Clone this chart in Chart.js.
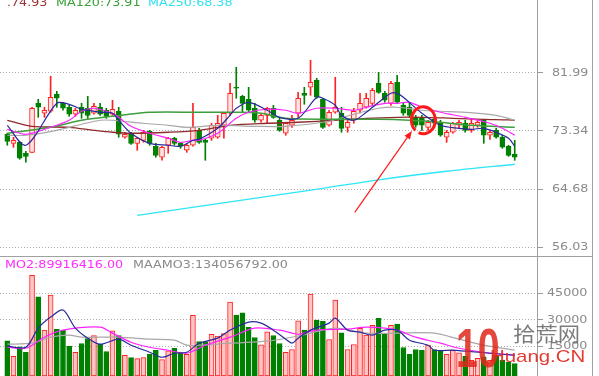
<!DOCTYPE html>
<html><head><meta charset="utf-8">
<script src="https://cdn.jsdelivr.net/npm/chart.js@4.4.0/dist/chart.umd.min.js"></script>
<style>
body{margin:0;background:#fff;}
#wrap{position:relative;width:599px;height:376px;overflow:hidden;background:#fff;font-family:'DejaVu Sans',sans-serif;}
canvas{position:absolute;left:0;}
.t{position:absolute;white-space:nowrap;font-size:10px;line-height:12px;transform:scaleX(1.27);transform-origin:0 0;font-family:'DejaVu Sans',sans-serif;}
.ln{position:absolute;background:#a0a0a0;}
</style></head><body>
<div id="wrap">
<canvas id="pc" width="599" height="256" style="top:0"></canvas>
<canvas id="vc" width="599" height="120" style="top:256px"></canvas>
<div class="ln" style="left:0;top:256px;width:593px;height:1px"></div>
<div class="ln" style="left:592px;top:0;width:1px;height:376px"></div>
<span class="t" style="left:7px;top:-3px;color:#9a3434">.74.93</span>
<span class="t" style="left:56px;top:-3px;color:#36a236">MA120:73.91</span>
<span class="t" style="left:148px;top:-3px;color:#2ee0f0">MA250:68.38</span>
<span class="t" style="left:5px;top:259px;color:#ff2cff">MO2:89916416.00</span>
<span class="t" style="left:133px;top:259px;color:#8a8a8a">MAAMO3:134056792.00</span>
<div style="position:absolute;left:456px;top:320px;font:bold 56px 'Liberation Sans',sans-serif;line-height:56px;color:#e0281c;opacity:0.85;transform:scaleX(0.7);transform-origin:0 0">10</div>
<div style="position:absolute;left:513px;top:324px;font:20px 'Noto Sans CJK SC',sans-serif;line-height:20px;color:#666;opacity:0.85;transform:scaleX(1.12);transform-origin:0 0">拾荒网</div>
<div style="position:absolute;left:490px;top:348px;font:17px 'Liberation Sans',sans-serif;line-height:17px;color:#e0281c;opacity:0.9;transform:scaleX(1.2);transform-origin:0 0">Huang.CN</div>
</div>
<script>
// ---- candles (price) ----
const openP  = [72.85,71.50,71.65,70.01,70.16,77.47,75.98,76.28,78.81,77.47,76.88,75.83,76.88,76.73,75.98,76.88,76.43,75.83,76.28,72.40,72.85,71.50,71.95,73.29,71.06,69.42,71.21,72.25,71.50,70.46,71.21,73.44,71.95,72.25,72.40,74.19,75.98,79.86,78.52,78.07,76.73,74.94,75.68,76.73,74.94,73.00,74.19,75.98,78.96,79.86,80.90,78.07,74.19,76.13,75.98,73.89,74.94,76.43,76.88,77.47,80.46,78.96,77.47,80.61,77.17,76.88,75.38,75.23,73.89,75.08,74.64,72.40,73.15,74.19,74.49,73.44,74.19,74.94,72.70,73.44,72.40,71.06,69.86];
const highP  = [73.00,72.40,71.80,70.31,76.88,78.07,76.88,81.50,79.26,77.62,77.17,76.73,77.47,78.52,77.47,77.47,76.73,77.92,76.88,73.15,73.15,72.40,73.44,73.44,71.50,71.06,72.40,72.40,71.65,71.50,77.47,73.74,72.10,74.49,75.68,76.13,80.46,82.84,78.66,79.86,77.47,75.98,76.88,77.17,75.23,74.64,75.68,79.11,79.86,83.89,81.20,78.22,76.43,81.35,76.88,74.94,76.73,78.96,78.96,79.71,82.10,79.26,80.75,81.65,77.62,77.47,75.68,75.68,74.94,75.23,74.94,73.44,74.64,74.94,74.94,75.23,74.94,75.08,73.44,73.74,72.70,71.21,71.95];
const lowP   = [71.21,70.91,69.12,68.67,70.10,75.38,75.38,76.13,76.88,76.43,75.53,75.53,75.23,75.23,75.83,75.68,75.23,75.68,72.40,72.25,71.35,70.46,71.65,71.21,69.42,68.97,70.01,71.21,70.76,70.16,71.06,71.50,68.97,71.95,72.25,72.25,75.68,78.22,76.13,76.13,74.64,74.64,74.49,75.23,73.29,72.70,73.89,75.38,77.32,78.66,78.22,73.74,74.04,75.98,73.15,73.15,74.49,75.98,76.73,77.17,78.96,77.62,77.17,77.47,75.68,75.38,73.89,73.44,73.44,74.19,72.55,71.65,73.00,73.74,73.15,73.15,73.89,71.50,72.10,72.25,70.76,69.56,68.97];
const closeP = [71.80,71.95,69.27,69.56,76.73,76.88,76.43,78.37,78.22,76.73,75.83,76.43,75.98,75.68,77.02,75.83,75.53,76.58,72.85,72.85,71.50,72.25,73.15,71.50,69.71,70.91,72.25,71.50,71.06,71.21,73.89,71.65,71.65,74.19,74.49,75.98,78.96,79.71,77.47,76.43,74.94,75.68,76.73,75.38,73.44,74.49,74.94,78.22,78.66,80.61,78.37,73.89,76.13,76.88,73.74,74.64,76.28,77.47,78.22,79.41,79.11,77.92,80.46,77.62,75.98,75.68,74.19,74.19,74.64,74.49,72.70,73.15,74.49,74.64,73.44,74.49,74.64,72.70,73.15,72.40,70.91,69.71,69.42];
// ---- volume ----
const volume = [18270,9640,14880,11890,55150,43080,24300,44040,24700,24300,15280,11890,16800,19620,21310,16400,12290,23910,21310,10200,8900,8340,8900,10770,13020,7780,12630,14150,11500,10770,32590,17930,17930,21880,20920,22440,40090,32760,34060,25820,20180,16010,23340,21310,16800,11890,13420,29550,24300,44600,29940,29210,19060,41220,22780,13420,16240,25260,21480,26950,30900,21880,26950,27690,14540,10770,13420,13020,15840,13420,13020,10770,13020,11500,9640,7380,8510,9240,7380,9640,7380,6420,5520];
// ---- price moving averages (read at candle indices) ----
const ma5Idx = [0,3,8,10,12,13,15,17,18,20,23,26,28,30,31,34,36,37,39,42,44,47,50,51,53,54,56,58,60,62,63,64,67,70,73,75,77,79,81,82];
const ma5Val = [74.19,71.21,77.47,77.32,76.58,76.43,76.13,75.98,74.94,73.00,71.50,71.21,71.06,71.95,72.10,73.74,75.68,76.73,77.62,76.43,75.38,75.23,78.37,78.22,77.17,75.68,74.94,76.13,77.62,78.96,78.96,78.37,75.98,74.19,73.74,73.59,73.74,73.15,72.25,71.06];
const ma10Idx = [0,3,7,10,12,14,17,18,20,23,26,28,30,31,34,37,39,42,45,47,50,53,56,58,61,63,65,67,70,74,78,80,82];
const ma10Val = [73.59,72.85,73.89,74.94,76.28,76.73,75.98,75.38,74.04,73.00,72.25,71.65,71.95,71.95,73.00,75.23,76.13,76.58,76.43,75.98,76.73,76.73,76.43,76.88,77.47,77.47,77.62,76.88,76.13,75.38,74.49,73.74,72.70];
const ma120Idx = [0,7,12,17,23,31,36,41,45,52,60,65,70,75,82];
const ma120Val = [73.00,73.89,74.94,75.53,76.13,76.13,76.13,75.98,75.23,75.08,75.08,74.94,74.64,74.19,73.91];
const ma60Idx = [0,4,10,14,17,20,26,31,36,42,47,53,58,63,67,72,77,81,82];
const ma60Val = [74.94,74.04,73.89,73.44,73.15,73.00,73.15,73.44,74.19,74.49,74.64,74.94,75.23,75.38,75.38,75.23,75.08,75.00,74.93];
const maGrayIdx = [0,3,8,12,15,17,22,26,29,34,40,45,52,56,60,63,67,70,74,79,82];
const maGrayVal = [72.70,72.70,73.44,74.34,74.94,74.94,74.49,74.19,73.89,74.19,74.04,74.04,74.79,75.83,76.73,76.88,76.43,76.28,76.13,75.68,74.94];
const ma250Idx = [21,31,41,51,60,71,82];
const ma250Val = [60.76,62.10,63.45,64.79,66.06,67.33,68.38];
// ---- volume moving averages ----
const vma1Idx = [0,3,5,7,9,11,13,15,18,20,23,25,27,29,31,34,36,39,41,43,45,46,47,49,52,53,55,57,59,61,63,65,68,69,72,74,82];
const vma1Val = [15280,14710,25430,31630,35580,25430,19790,16400,19230,15840,11890,9070,11330,11890,16970,19790,24300,28810,28250,24300,19230,16970,19790,24300,28250,31070,24300,23170,21480,24300,24300,18660,15840,13020,13020,12460,10200];
const vma2Idx = [0,3,6,9,15,17,20,23,26,29,32,36,40,44,46,47,50,55,58,61,63,66,70,73,77,82];
const vma2Val = [14710,14150,20350,24300,25990,22610,17530,14710,13020,11330,15840,20350,25430,24300,22610,22000,24300,24870,25990,25430,24300,20350,16970,14150,11890,10200];
const vma3Idx = [0,4,7,10,12,18,23,27,29,31,36,42,47,53,58,63,69,73,77,82];
const vma3Val = [16400,16970,20350,21480,20350,20350,19230,18660,15840,15840,16970,18100,21000,25430,22610,22610,22610,19230,15840,13020];
// ---- tick labels ----
const priceTicks = [56.03, 64.68, 73.34, 81.99];
const volTicks = [15000, 30000, 45000];
// ---- annotation (data coords) ----
const circleAt = [67.24, 74.94];
const arrowFrom = [56.15, 61.21];
const arrowTo = [65.2, 73.1];

const RED='#ff2020', REDFILL='#ffe2e2', GREEN='#008000';
const up = closeP.map((c,i)=> c >= openP[i]);
const colEdge = up.map(u=> u?RED:GREEN);
const colBody = up.map(u=> u?REDFILL:GREEN);
const xMin=-1.18, xMax=85.6;
const pts = (idx,val)=> idx.map((x,k)=>({x:x,y:val[k]}));
const lineDs = (idx,val,color,w)=>({type:'line',data:pts(idx,val),borderColor:color,borderWidth:w||1.2,pointRadius:0,tension:0.3,fill:false,order:0});

Chart.defaults.font.family = "'DejaVu Sans', sans-serif";
Chart.defaults.animation = false;

const annot = {id:'annot', afterDatasetsDraw(chart){
  const {ctx, scales:{x,y}} = chart;
  ctx.save();
  ctx.strokeStyle='#ff1a1a'; ctx.fillStyle='#ff1a1a';
  const cx=x.getPixelForValue(circleAt[0]), cy=y.getPixelForValue(circleAt[1]);
  ctx.lineWidth=3;
  ctx.beginPath(); ctx.ellipse(cx,cy,12,13.5,0,2.3,2.3+Math.PI*1.9); ctx.stroke();
  const x1=x.getPixelForValue(arrowFrom[0]), y1=y.getPixelForValue(arrowFrom[1]);
  const x2=x.getPixelForValue(arrowTo[0]), y2=y.getPixelForValue(arrowTo[1]);
  ctx.lineWidth=1.2;
  ctx.beginPath(); ctx.moveTo(x1,y1); ctx.lineTo(x2,y2); ctx.stroke();
  const a=Math.atan2(y2-y1,x2-x1);
  ctx.beginPath(); ctx.moveTo(x2+2*Math.cos(a),y2+2*Math.sin(a));
  ctx.lineTo(x2-7*Math.cos(a-0.5),y2-7*Math.sin(a-0.5));
  ctx.lineTo(x2-7*Math.cos(a+0.5),y2-7*Math.sin(a+0.5));
  ctx.closePath(); ctx.fill();
  ctx.restore();
}};

function yAxis(min,max,ticks,pad,fmt){
  return {position:'right', min:min, max:max,
    afterBuildTicks: s=>{ s.ticks = ticks.map(v=>({value:v})); },
    afterFit: s=>{ s.width = 62; s.paddingTop=0; s.paddingBottom=0; },
    ticks:{padding:pad, color:'#8a8a8a', font:{size:10}, callback: fmt},
    grid:{color:'#b0b0b0', lineWidth:1, tickLength:6, tickColor:'#9a9a9a', drawTicks:true},
    border:{display:true, color:'#a0a0a0', width:1, dash:[1,2]}
  };
}
const xAxis = {type:'linear', min:xMin, max:xMax, display:false, offset:false};

const pChart = new Chart(document.getElementById('pc'), {
  type:'bar',
  data:{datasets:[
    lineDs(ma5Idx,ma5Val,'#2a2a9c'),
    lineDs(ma10Idx,ma10Val,'#ff22ff'),
    lineDs(ma120Idx,ma120Val,'#3c9e3c',1.5),
    lineDs(maGrayIdx,maGrayVal,'#a8a8a8'),
    lineDs(ma60Idx,ma60Val,'#8e2a2a',1.3),
    lineDs(ma250Idx,ma250Val,'#2ee6f6',1.3),
    {type:'bar', data: openP.map((o,i)=>({x:i,y:[o,closeP[i]]})), backgroundColor:colBody, borderColor:colEdge, borderWidth:1, borderSkipped:false, barThickness:5, grouped:false, order:1},
    {type:'bar', data: highP.map((h,i)=>({x:i,y:[lowP[i],h]})), backgroundColor:colEdge, borderWidth:0, barThickness:1, grouped:false, order:2}
  ]},
  options:{responsive:false, maintainAspectRatio:false, animation:false,
    layout:{padding:0},
    plugins:{legend:{display:false}, tooltip:{enabled:false}},
    scales:{x:xAxis, y:yAxis(54.69,92.88,priceTicks,9,v=>v.toFixed(2))}
  },
  plugins:[annot]
});

const vChart = new Chart(document.getElementById('vc'), {
  type:'bar',
  data:{datasets:[
    lineDs(vma1Idx,vma1Val,'#2a2a9c'),
    lineDs(vma2Idx,vma2Val,'#ff22ff'),
    lineDs(vma3Idx,vma3Val,'#a8a8a8'),
    {type:'bar', data: volume.map((v,i)=>({x:i,y:v})), base:-1461, backgroundColor:up.map(u=>u?'#ffc4c4':GREEN), borderColor:colEdge, borderWidth:1, borderSkipped:false, barThickness:5, grouped:false, order:1}
  ]},
  options:{responsive:false, maintainAspectRatio:false, animation:false,
    layout:{padding:0},
    plugins:{legend:{display:false}, tooltip:{enabled:false}},
    scales:{x:xAxis, y:yAxis(-1461,65955,volTicks,4,v=>String(v))}
  }
});

function stretchLabels(chart,id,sx){
  const sc = chart.scales[id];
  const orig = sc.drawLabels;
  sc.drawLabels = function(area){
    const c=this.ctx;
    const x0=this.left + this.options.grid.tickLength + this.options.ticks.padding;
    c.save(); c.translate(x0,0); c.scale(sx,1); c.translate(-x0,0);
    orig.call(this,area); c.restore();
  };
  chart.draw();
}
stretchLabels(pChart,'y',1.27);
stretchLabels(vChart,'y',1.27);
</script>
</body></html>
